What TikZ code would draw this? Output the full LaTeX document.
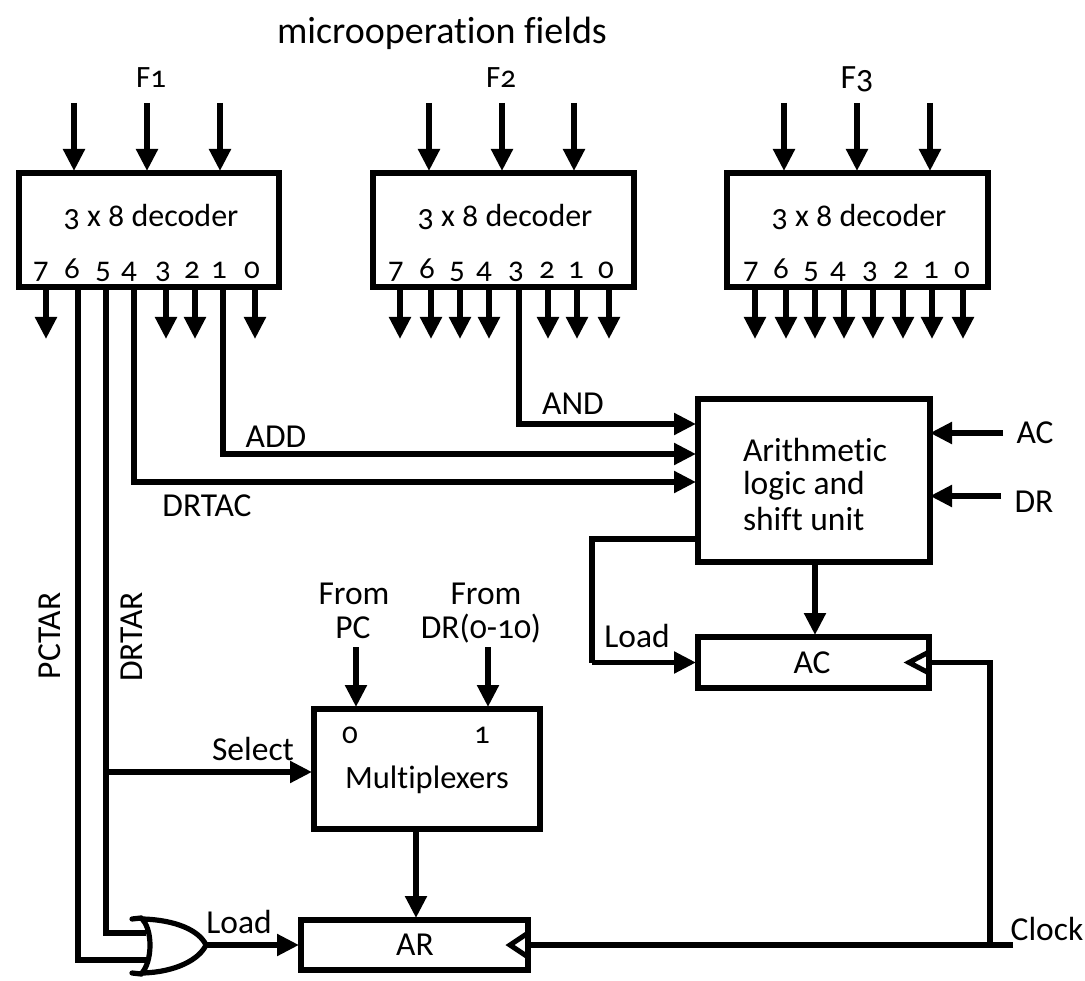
\documentclass[tikz,border=0pt]{standalone}
\usepackage{fontspec}
\setmainfont[Numbers=OldStyle,Ligatures=NoCommon]{Carlito}
\usetikzlibrary{arrows.meta}
\tikzset{
  tip/.tip={Triangle[length=22pt,width=21pt]},
  blk/.style={draw=black,line width=5.2pt,outer sep=0pt,inner sep=0pt,fill=white},
  wire/.style={draw=black,line width=5.2pt,line join=miter},
  arr/.style={wire,-tip,shorten >=2pt},
  arrout/.style={wire,-tip},
  lbl/.style={anchor=base,inner sep=0pt,outer sep=0pt,font=\fontsize{33.5}{33.5}\selectfont,text=black},
  num/.style={anchor=base,inner sep=0pt,outer sep=0pt,font=\fontsize{31}{31}\selectfont,text=black},
  dec/.style={anchor=base,inner sep=0pt,outer sep=0pt,font=\fontsize{32}{32}\selectfont,text=black},
}
\begin{document}
\begin{tikzpicture}[x=1pt,y=-1pt]
\useasboundingbox (0,0) rectangle (1085,981);
% boxes
\node[blk,minimum width=260pt,minimum height=114pt] (d1) at (149,230) {};
\node[blk,minimum width=261pt,minimum height=114pt] (d2) at (503.5,230) {};
\node[blk,minimum width=261pt,minimum height=114pt] (d3) at (857.5,230) {};
\node[blk,minimum width=232pt,minimum height=163pt] (alu) at (814,480.5) {};
\node[blk,minimum width=231pt,minimum height=51pt] (ac) at (813.5,662.5) {};
\node[blk,minimum width=226pt,minimum height=120pt] (mux) at (427,769) {};
\node[blk,minimum width=227pt,minimum height=50pt] (ar) at (414.5,945) {};
% decoder inputs
\foreach \x[count=\i] in {74,147,220} {\coordinate (ia\i) at (\x,103); \draw[arr] (ia\i) -- (ia\i |- d1.north);}
\foreach \x[count=\i] in {429,502,574} {\coordinate (ib\i) at (\x,103); \draw[arr] (ib\i) -- (ib\i |- d2.north);}
\foreach \x[count=\i] in {784,857,930} {\coordinate (ic\i) at (\x,103); \draw[arr] (ic\i) -- (ic\i |- d3.north);}
% decoder outputs
\foreach \x[count=\i] in {46,166,195,255} {\coordinate (oa\i) at (\x,339); \draw[arrout] (oa\i |- d1.south) -- (oa\i);}
\foreach \x[count=\i] in {400,431,460,489,548,577,609} {\coordinate (ob\i) at (\x,339); \draw[arrout] (ob\i |- d2.south) -- (ob\i);}
\foreach \x[count=\i] in {755,786,815,844,873,903,932,963} {\coordinate (oc\i) at (\x,339); \draw[arrout] (oc\i |- d3.south) -- (oc\i);}
% ALU inputs
\coordinate (andpin) at (519,424);
\coordinate (addpin) at (223,454);
\coordinate (drtacpin) at (134,482);
\draw[arr] (andpin |- d2.south) -- (andpin) -- (andpin -| alu.west);
\draw[arr] (addpin |- d1.south) -- (addpin) -- (addpin -| alu.west);
\draw[arr] (drtacpin |- d1.south) -- (drtacpin) -- (drtacpin -| alu.west);
\coordinate (acin) at (1003,433);
\coordinate (drin) at (1001,496);
\draw[arrout] (acin) -- (acin -| alu.east);
\draw[arrout] (drin) -- (drin -| alu.east);
% ALU outputs
\coordinate (aluout) at (815,562);
\draw[arr] (aluout) -- (aluout |- ac.north);
\coordinate (lc1) at (592,539);
\coordinate (lc2) at (592,662.5);
\draw[wire] (lc1 -| alu.west) -- (lc1) -- (lc2);
\draw[arr] (lc2) -- (ac.west);
% clock
\coordinate (clk1) at (990,662.5);
\coordinate (clk2) at (990,945);
\coordinate (clkend) at (1013,945);
\draw[wire] (clkend) -- (clk2) -- (clk1) -- (ac.east);
\draw[wire] (clk2) -- (ar.east);
\coordinate (act) at (909,662.5);
\coordinate (art) at (510,945);
\draw[wire,line width=5pt] (ac.east) ++(-1,-10) -- (act) -- ++(19,10);
\draw[wire,line width=5pt] (ar.east) ++(0,-12) -- (art) -- ++(18,12);
% mux
\coordinate (pc) at (356,647);
\coordinate (dr) at (488,647);
\draw[arr] (pc) -- (pc |- mux.north);
\draw[arr] (dr) -- (dr |- mux.north);
\coordinate (muxout) at (416,829);
\draw[arr] (muxout) -- (muxout |- ar.north);
% select and OR inputs
\coordinate (v5) at (106,772);
\coordinate (v5b) at (106,933);
\coordinate (v6) at (78,960);
\coordinate (orin1) at (146,933);
\coordinate (orin2) at (146,960);
\draw[arr] (v5) -- (mux.west |- v5);
\draw[wire] (v5 |- d1.south) -- (v5b) -- (orin1);
\draw[wire] (v6 |- d1.south) -- (v6) -- (orin2);
% OR gate
\coordinate (orout) at (206,945);
\coordinate (orta) at (132,919);
\coordinate (ortb) at (132,973);
\draw[wire,line cap=round] (orta) -- (141,918) .. controls (153,928) and (153,962) .. (141,974) -- (ortb);
\draw[wire] (143,919) .. controls (175,920) and (199,930) .. (orout) .. controls (199,960) and (175,972) .. (143,973);
\draw[arr] (orout) -- (ar.west |- orout);
% labels
\node[lbl,font=\fontsize{38}{38}\selectfont] (title) at (442,44) {microoperation fields};
\node[num] (f1) at (151,88) {F1};
\node[num] (f2) at (501,88) {F2};
\node[num,font=\fontsize{34}{34}\selectfont] (f3) at (857,89) {F3};
\node[dec] (td1) at (151,227) {3 x 8 decoder};
\node[dec] (td2) at (505,227) {3 x 8 decoder};
\node[dec] (td3) at (859,227) {3 x 8 decoder};
\foreach \d/\x in {7/41,6/72,5/103,4/129,3/163,2/192,1/219,0/252} {\node[num] (na\d) at (\x,279) {\d};}
\foreach \d/\x in {7/396,6/427,5/457,4/484,3/516,2/547,1/576,0/606} {\node[num] (nb\d) at (\x,279) {\d};}
\foreach \d/\x in {7/751,6/781,5/811,4/838,3/870,2/901,1/931,0/962} {\node[num] (nc\d) at (\x,279) {\d};}
\node[lbl] (tand) at (573,415) {AND};
\node[lbl] (tadd) at (276,448) {ADD};
\node[lbl] (tdrtac) at (207,517) {DRTAC};
\node[lbl] (tac) at (1035,444) {AC};
\node[lbl] (tdr) at (1034,512) {DR};
\node[lbl,anchor=base west] (al1) at (743,462) {Arithmetic};
\node[lbl,anchor=base west] (al2) at (743,495) {logic and};
\node[lbl,anchor=base west] (al3) at (743,530) {shift unit};
\node[lbl] (from1) at (354,604) {From};
\node[lbl] (tpc) at (353,638) {PC};
\node[lbl] (from2) at (486,604) {From};
\node[lbl] (tdrr) at (481,638) {DR(0-10)};
\node[lbl,rotate=90] (pctar) at (60,636) {PCTAR};
\node[lbl,rotate=90] (drtar) at (142,637) {DRTAR};
\node[lbl] (tl1) at (637,647) {Load};
\node[lbl] (tacb) at (812,673) {AC};
\node[lbl] (tsel) at (253,760) {Select};
\node[num] (m0) at (350,743) {0};
\node[num] (m1) at (482,743) {1};
\node[lbl,font=\fontsize{32.5}{32.5}\selectfont] (tmux) at (427,788) {Multiplexers};
\node[lbl] (tl2) at (239,933) {Load};
\node[lbl] (tar) at (415,955) {AR};
\node[lbl] (tclk) at (1047,940) {Clock};
\end{tikzpicture}
\end{document}
